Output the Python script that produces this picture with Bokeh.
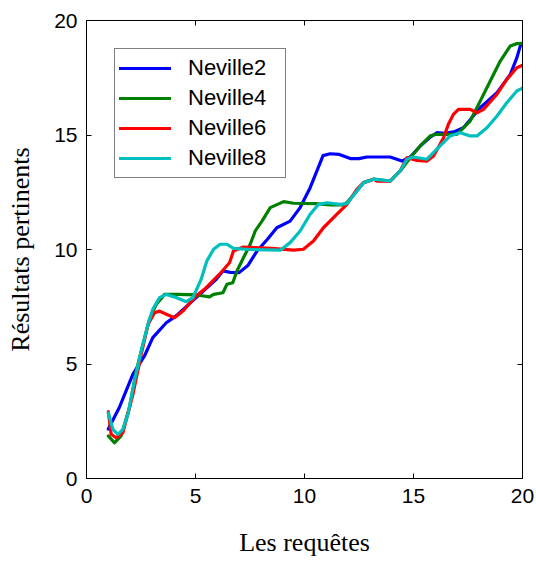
from bokeh.plotting import figure
from bokeh.models import Range1d, LinearAxis, FixedTicker, Legend, LegendItem
from bokeh.embed import file_html
from bokeh.resources import INLINE

# ---- data ----
n2_x = [1.0, 1.5, 2.13, 2.66, 3.04, 3.66, 4.11, 5.03, 5.95, 6.26, 6.6, 7.0, 7.4, 7.82, 8.3, 8.73, 9.34,
        9.8, 10.26, 10.57, 10.85, 11.18, 11.6, 12.1, 12.5, 12.86, 13.93, 14.47, 14.85, 15.31, 15.77,
        16.07, 16.45, 16.9, 17.29, 18.06, 18.83, 19.44, 19.74, 19.9, 20.0]
n2_y = [2.16, 3.09, 4.56, 5.35, 6.15, 6.8, 7.1, 7.9, 8.7, 9.06, 9.0, 8.99, 9.3, 9.93, 10.45, 10.95, 11.24,
        11.83, 12.7, 13.43, 14.1, 14.18, 14.15, 13.97, 13.97, 14.04, 14.04, 13.86, 14.04, 14.52, 14.91,
        15.1, 15.07, 15.15, 15.32, 16.19, 16.85, 17.65, 18.37, 18.89, 19.0]

n4_x = [1.0, 1.28, 1.59, 1.97, 2.28, 2.59, 2.89, 3.2, 3.58, 4.2, 5.0, 5.37, 5.64, 5.83, 6.26, 6.44,
        6.71, 6.9, 7.2, 7.51, 7.74, 8.05, 8.43, 9.04, 9.5, 10.5, 11.18, 11.79, 11.95, 12.4, 12.71,
        13.17, 13.93, 14.39, 14.85, 15.31, 15.77, 16.07, 16.99, 17.6, 18.06, 18.52, 18.98, 19.44,
        19.74, 20.0]
n4_y = [1.86, 1.56, 1.86, 3.09, 4.69, 5.86, 6.95, 7.6, 8.04, 8.04, 8.02, 7.97, 7.93, 8.04, 8.11, 8.48,
        8.55, 9.06, 9.64, 10.23, 10.81, 11.24, 11.83, 12.09, 12.02, 12.0, 11.95, 11.95, 12.05, 12.55,
        12.92, 13.07, 12.99, 13.43, 14.01, 14.52, 14.96, 15.03, 15.03, 15.61, 16.48, 17.36, 18.23,
        18.89, 18.99, 19.0]

n6_x = [1.0, 1.13, 1.36, 1.67, 2.13, 2.51, 2.82, 3.12, 3.35, 3.66, 4.04, 4.42, 5.03, 5.49, 6.1, 6.56,
        6.74, 7.2, 8.5, 9.5, 9.95, 10.41, 10.87, 11.49, 11.95, 12.4, 12.71, 13.17, 13.32, 13.93,
        14.39, 14.7, 15.16, 15.61, 15.92, 16.38, 16.6, 16.83, 17.06, 17.6, 17.91, 18.21, 18.83,
        19.28, 19.74, 20.0]
n6_y = [2.92, 1.93, 1.78, 2.0, 3.68, 5.42, 6.73, 7.24, 7.31, 7.17, 7.02, 7.31, 7.97, 8.33, 8.92, 9.42,
        9.93, 10.11, 10.05, 9.97, 10.01, 10.37, 10.95, 11.54, 11.97, 12.63, 12.92, 13.07, 12.99, 12.99,
        13.43, 14.01, 13.89, 13.86, 14.08, 14.88, 15.47, 15.9, 16.12, 16.12, 15.97, 16.12, 16.78,
        17.43, 17.94, 18.05]

n8_x = [1.0, 1.21, 1.44, 1.67, 1.9, 2.2, 2.51, 2.82, 3.04, 3.35, 3.66, 4.11, 4.57, 4.88, 5.26, 5.52,
        5.83, 6.13, 6.44, 6.74, 7.5, 8.89, 9.34, 9.8, 10.26, 10.64, 11.03, 11.64, 11.95, 12.4,
        12.71, 13.17, 13.93, 14.39, 14.7, 15.0, 15.61, 16.22, 16.68, 17.14, 17.6, 17.91, 18.37,
        18.83, 19.28, 19.74, 20.0]
n8_y = [2.87, 2.15, 1.93, 2.15, 2.8, 4.26, 5.57, 6.73, 7.39, 7.9, 8.04, 7.9, 7.72, 7.9, 8.7, 9.5,
        10.01, 10.23, 10.23, 10.05, 10.0, 9.97, 10.3, 10.81, 11.54, 11.97, 12.04, 11.97, 12.0, 12.55,
        12.92, 13.07, 12.99, 13.43, 13.94, 14.04, 13.94, 14.52, 14.96, 15.1, 14.96, 14.96, 15.32,
        15.83, 16.41, 16.92, 17.05]

series_names = ["Neville2", "Neville4", "Neville6", "Neville8"]
series_x = [n2_x, n4_x, n6_x, n8_x]
series_y = [n2_y, n4_y, n6_y, n8_y]
colors = ["#0000FF", "#008000", "#FF0000", "#00BFBF"]
ticks = [0, 5, 10, 15, 20]

p = figure(width=536, height=561, x_range=Range1d(0, 20), y_range=Range1d(0, 20),
           output_backend="svg", toolbar_location=None,
           min_border_left=86, min_border_right=14, min_border_top=20, min_border_bottom=83)
p.xgrid.visible = False
p.ygrid.visible = False
p.outline_line_color = "black"
p.outline_line_width = 1
p.background_fill_color = "white"
p.border_fill_color = "white"

for ax, label in ((p.xaxis[0], "Les requêtes"), (p.yaxis[0], "Résultats pertinents")):
    ax.ticker = FixedTicker(ticks=ticks)
    ax.minor_tick_line_color = None
    ax.major_tick_in = 5
    ax.major_tick_out = 0
    ax.axis_line_color = "black"
    ax.major_tick_line_color = "black"
    ax.major_label_text_font = "Liberation Sans"
    ax.major_label_text_font_size = "21px"
    ax.major_label_text_color = "black"
    ax.axis_label = label
    ax.axis_label_text_font = "Liberation Serif"
    ax.axis_label_text_font_size = "26px"
    ax.axis_label_text_font_style = "normal"
    ax.axis_label_text_color = "black"
p.xaxis[0].major_label_standoff = 10
p.yaxis[0].major_label_standoff = 9
p.xaxis[0].axis_label_standoff = 22
p.yaxis[0].axis_label_standoff = 16

for loc in ("above", "right"):
    a = LinearAxis(ticker=FixedTicker(ticks=ticks))
    a.major_tick_in = 5
    a.major_tick_out = 0
    a.minor_tick_line_color = None
    a.major_label_overrides = {t: "" for t in ticks}
    a.major_label_text_font_size = "1px"
    a.major_label_standoff = 0
    a.axis_line_color = "black"
    p.add_layout(a, loc)

items = []
for name, xs, ys, c in zip(series_names, series_x, series_y, colors):
    r = p.line(xs, ys, line_color=c, line_width=3.2, line_join="round", line_cap="round")
    items.append(LegendItem(label=name, renderers=[r]))

legend = Legend(items=items, location="top_left", margin=28, padding=4, spacing=0,
                label_height=30, glyph_height=30, glyph_width=52, label_standoff=17, label_width=93,
                label_text_font="Liberation Sans", label_text_font_size="22px",
                label_text_color="black", border_line_color="black", border_line_width=1,
                background_fill_alpha=1.0)
p.add_layout(legend)

open("out.html", "w").write(file_html(p, INLINE))
